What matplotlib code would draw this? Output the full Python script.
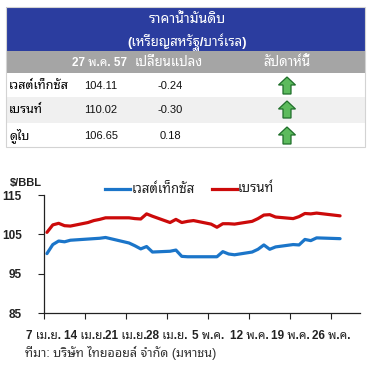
import matplotlib
matplotlib.use('Agg')
import matplotlib.pyplot as plt
from matplotlib import font_manager
from matplotlib.patches import Rectangle, Polygon

# pick a looped Thai font if possible (closer to Tahoma)
names = set(f.name for f in font_manager.fontManager.ttflist)
thai = 'DejaVu Sans'
for n in ['Noto Sans Thai Looped', 'Sarabun', 'Noto Sans Thai', 'Loma', 'Tahoma']:
    if n in names:
        thai = n
        break
plt.rcParams['font.family'] = ['Liberation Sans', thai, 'DejaVu Sans']

# table data
tbl_title = 'ราคาน้ำมันดิบ'
tbl_unit = '(เหรียญสหรัฐ/บาร์เรล)'
tbl_cols = ['27 พ.ค. 57', 'เปลี่ยนแปลง', 'สัปดาห์นี้']
tbl_names = ['เวสต์เท็กซัส', 'เบรนท์', 'ดูไบ']
tbl_price = ['104.11', '110.02', '106.65']
tbl_change = ['-0.24', '-0.30', '0.18']

# chart data: trading days counted from 7 Apr 2014
days = [0, 1, 2, 3, 4, 7, 8, 9, 10, 14, 15, 16, 17, 18, 21, 22, 23, 24, 25,
        28, 29, 30, 31, 32, 35, 36, 37, 38, 39, 42, 43, 44, 45, 46, 50]
wti = [100.1, 102.4, 103.3, 103.1, 103.5, 103.8, 103.9, 104.0, 104.2, 102.8,
       102.1, 101.3, 101.9, 100.5, 100.7, 101.0, 99.4, 99.3, 99.3, 99.3,
       99.3, 100.6, 100.0, 99.8, 100.5, 101.2, 102.3, 101.2, 101.8, 102.4,
       102.3, 103.7, 103.4, 104.1, 103.9]
brent = [105.5, 107.4, 107.8, 107.2, 107.1, 108.0, 108.5, 108.8, 109.2, 109.2,
         109.0, 108.9, 110.2, 109.6, 108.0, 108.8, 108.0, 108.3, 108.5, 107.6,
         106.8, 107.7, 107.7, 107.6, 108.3, 109.0, 109.9, 110.0, 109.4, 109.0,
         109.5, 110.3, 110.2, 110.4, 109.7]
xlabels = ['7 เม.ย.', '14 เม.ย.', '21 เม.ย.', '28 เม.ย.', '5 พ.ค.',
           '12 พ.ค.', '19 พ.ค.', '26 พ.ค.']
series_names = ['เวสต์เท็กซัส', 'เบรนท์']
source = 'ที่มา: บริษัท ไทยออยล์ จำกัด (มหาชน)'

W, H = 372, 365
fig = plt.figure(figsize=(W / 100, H / 100), dpi=100)

# background axes in pixel units for the table
bg = fig.add_axes([0, 0, 1, 1])
bg.set_xlim(0, W)
bg.set_ylim(H, 0)
bg.axis('off')

bg.add_patch(Rectangle((6, 7), 359, 44, fc='#2B3D9F', ec='none'))
bg.add_patch(Rectangle((6, 51), 359, 22, fc='#A5A5A5', ec='none'))
bg.add_patch(Rectangle((6, 97), 359, 26, fc='#F0F0F0', ec='none'))
bg.add_patch(Rectangle((6, 7), 359, 140, fc='none', ec='#D3D3D3', lw=0.8))

bg.text(187, 19, tbl_title, color='white', fontsize=10, fontweight='bold',
        ha='center', va='center')
bg.text(187, 42, tbl_unit, color='white', fontsize=9.5, fontweight='bold',
        ha='center', va='center')
bg.text(100, 63, tbl_cols[0], color='white', fontsize=8.5, fontweight='bold',
        ha='center', va='center')
bg.text(169, 63, tbl_cols[1], color='white', fontsize=9.5, fontweight='bold',
        ha='center', va='center')
bg.text(287, 63, tbl_cols[2], color='white', fontsize=9.5, fontweight='bold',
        ha='center', va='center')

row_y = [86, 110, 136]
for i in range(3):
    y = row_y[i]
    bg.text(9, y, tbl_names[i], fontsize=9, fontweight='bold', ha='left', va='center')
    bg.text(101, y, tbl_price[i], fontsize=8, ha='center', va='center', color='#111111')
    bg.text(170, y, tbl_change[i], fontsize=8, ha='center', va='center', color='#111111')
    cx = 287
    pts = [(cx, y - 9), (cx - 8.5, y - 1), (cx - 4, y - 1), (cx - 4, y + 8),
           (cx + 4, y + 8), (cx + 4, y - 1), (cx + 8.5, y - 1)]
    bg.add_patch(Polygon(pts, closed=True, fc='#5DBB5D', ec='#1F6E2A', lw=0.9))

# chart
ax = fig.add_axes([44 / W, 1 - 313 / H, 316 / W, 118 / H])
ax.plot(days, wti, color='#1B75C9', lw=2.3, solid_capstyle='round')
ax.plot(days, brent, color='#CC0A0A', lw=2.3, solid_capstyle='round')
ax.set_ylim(85, 115)
ax.set_yticks([85, 95, 105, 115])
ax.set_xlim(-0.5, 53.4)
ax.set_xticks([-0.5 + 7 * k for k in range(8)])
ax.set_xticklabels(xlabels)
for s in ['top', 'right']:
    ax.spines[s].set_visible(False)
for s in ['left', 'bottom']:
    ax.spines[s].set_color('#222222')
    ax.spines[s].set_linewidth(0.9)
ax.tick_params(axis='y', length=4, pad=12, labelsize=8.5, colors='#222222')
ax.tick_params(axis='x', length=4, pad=8, labelsize=8.5, colors='#222222')
for t in ax.get_yticklabels() + ax.get_xticklabels():
    t.set_fontweight('bold')
ax.patch.set_alpha(0)

# units label and legend
bg.text(10, 183, '$/BBL', fontsize=8, fontweight='bold', ha='left', va='center',
        color='#222222')
bg.plot([105, 130], [189, 189], color='#1B75C9', lw=2.3)
bg.text(132, 189, series_names[0], fontsize=9.5, ha='left', va='center', color='#222222')
bg.plot([212, 237], [189, 189], color='#CC0A0A', lw=2.3)
bg.text(238, 189, series_names[1], fontsize=9.5, ha='left', va='center', color='#222222')

bg.text(25, 353, source, fontsize=9, ha='left', va='center', color='#333333')

fig.savefig('out.png', dpi=100)
